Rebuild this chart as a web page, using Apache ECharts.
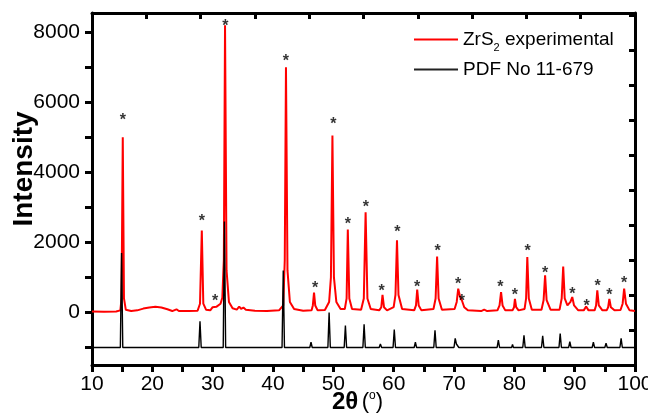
<!DOCTYPE html>
<html>
<head>
<meta charset="utf-8">
<script src="https://cdn.jsdelivr.net/npm/echarts@6/dist/echarts.min.js"></script>
<style>
  html, body { margin: 0; padding: 0; background: #fff; }
  #chart { width: 648px; height: 417px; }
</style>
</head>
<body>
<div id="chart"></div>
<script>
// measured ZrS2 pattern, [2theta, intensity]
const zrs2Experimental = [
  [10, 30], [12, 20], [14, 30], [14.7, 60], [14.9, 400], [15.1, 5000], [15.3, 400], [15.6, 80],
  [16.5, 40], [17.5, 60], [18.5, 110], [19.5, 140], [20.5, 160], [21.5, 140], [22.5, 90],
  [23.3, 40], [24, 90], [24.4, 40], [26, 40], [27.5, 50], [27.9, 250], [28.2, 2340], [28.45, 250],
  [28.9, 80], [29.6, 60], [30.0, 150], [30.3, 200], [30.6, 160], [30.9, 110], [31.3, 250],
  [31.6, 420], [31.85, 1500], [32.05, 8200], [32.3, 1200], [32.7, 300], [33.3, 120], [34.0, 80],
  [34.4, 170], [34.7, 100], [35.1, 140], [35.5, 80], [37, 50], [39, 40], [41, 60], [41.7, 200],
  [41.95, 1500], [42.15, 7000], [42.4, 1200], [42.8, 300], [43.5, 100], [45, 50], [46.4, 60],
  [46.6, 200], [46.8, 570], [47.0, 200], [47.4, 60], [48.6, 70], [49.3, 300], [49.6, 1000],
  [49.85, 5050], [50.1, 1000], [50.5, 300], [51.2, 100], [51.9, 100], [52.2, 400], [52.4, 2370],
  [52.65, 400], [53.1, 100], [54.6, 80], [55.05, 400], [55.35, 2860], [55.65, 400], [56.2, 100],
  [57.6, 60], [57.95, 150], [58.15, 500], [58.4, 150], [58.9, 60], [60, 150], [60.3, 500],
  [60.55, 2060], [60.8, 500], [61.4, 100], [63.4, 60], [63.7, 200], [63.9, 650], [64.15, 200],
  [64.6, 60], [66.6, 100], [66.95, 400], [67.2, 1600], [67.45, 400], [68, 80], [70.1, 100],
  [70.45, 300], [70.7, 680], [71.0, 450], [71.3, 350], [71.7, 150], [72.3, 60], [74.5, 40],
  [75, 80], [75.5, 40], [77.2, 60], [77.55, 200], [77.8, 580], [78.05, 200], [78.5, 60],
  [79.7, 60], [79.95, 150], [80.1, 390], [80.3, 150], [80.7, 60], [81.7, 100], [81.95, 400],
  [82.15, 1580], [82.4, 400], [82.9, 80], [84.5, 80], [84.85, 350], [85.1, 1060], [85.35, 350],
  [86, 80], [87.5, 80], [87.85, 400], [88.1, 1310], [88.35, 400], [88.8, 200], [89.3, 300],
  [89.6, 440], [89.9, 200], [90.6, 60], [91.5, 60], [91.9, 170], [92.3, 60], [93.3, 60],
  [93.55, 200], [93.75, 630], [94, 200], [94.6, 60], [95.3, 60], [95.55, 150], [95.75, 390],
  [96, 150], [96.6, 60], [97.6, 70], [97.95, 250], [98.2, 680], [98.5, 250], [99.1, 60], [100, 40]
];

// reference card, drawn offset below the measured curve
const pdfReference = [
  [10, -1000], [14.7, -1000], [14.9, 1700], [15.1, -1000],
  [27.7, -1000], [27.9, -250], [28.1, -1000],
  [30.4, -1000], [30.5, -950], [30.6, -1000],
  [31.75, -1000], [31.95, 2600], [32.15, -1000],
  [41.5, -1000], [41.7, 1200], [41.9, -1000],
  [46.1, -1000], [46.3, -850], [46.5, -1000],
  [49.1, -1000], [49.3, 0], [49.5, -1000],
  [51.8, -1000], [52.0, -370], [52.2, -1000],
  [54.9, -1000], [55.1, -340], [55.3, -1000],
  [57.6, -1000], [57.8, -900], [58.0, -1000],
  [59.2, -1000], [59.3, -960], [59.4, -1000],
  [59.9, -1000], [60.1, -490], [60.3, -1000],
  [63.4, -1000], [63.6, -850], [63.8, -1000],
  [66.65, -1000], [66.85, -510], [67.05, -1000],
  [70.0, -1000], [70.2, -740], [70.4, -900], [70.6, -880], [70.8, -1000],
  [77.15, -1000], [77.35, -790], [77.55, -1000],
  [79.55, -1000], [79.7, -910], [79.85, -1000],
  [81.4, -1000], [81.6, -650], [81.8, -1000],
  [84.5, -1000], [84.7, -670], [84.9, -1000],
  [87.4, -1000], [87.6, -600], [87.8, -1000],
  [89.0, -1000], [89.2, -830], [89.4, -1000],
  [91.3, -1000], [91.4, -960], [91.5, -1000],
  [92.9, -1000], [93.1, -850], [93.3, -1000],
  [95.0, -1000], [95.2, -880], [95.4, -1000],
  [97.5, -1000], [97.7, -740], [97.9, -1000],
  [100, -1000]
];

// asterisk marks above the indexed peaks
const starMarks = [
  [15.1, 5580], [28.2, 2714], [30.4, 430], [32.1, 8290], [42.15, 7270], [47.0, 800],
  [50.0, 5466], [52.4, 2620], [55.4, 3120], [58.0, 705], [60.6, 2390], [63.9, 820],
  [67.3, 1840], [70.7, 914], [71.3, 437], [77.7, 837], [80.1, 610], [82.2, 1840],
  [85.1, 1220], [89.6, 630], [92.0, 280], [93.8, 866], [95.75, 600], [98.2, 943]
];

const xTicks = [10, 15, 20, 25, 30, 35, 40, 45, 50, 55, 60, 65, 70, 75, 80, 85, 90, 95, 100];
const xLabels = [10, 20, 30, 40, 50, 60, 70, 80, 90, 100];
const xTopTicks = [19, 28, 37, 46, 55, 64, 73, 82, 91];
const yTicks = [-1000, 0, 1000, 2000, 3000, 4000, 5000, 6000, 7000, 8000];
const yLabels = [0, 2000, 4000, 6000, 8000];
const yRightTicks = [-500, 500, 1500, 2500, 3500, 4500, 5500, 6500, 7500, 8500];

const FONT = '"Liberation Sans", Arial, sans-serif';
const axisLine = { show: true, onZero: false, lineStyle: { color: '#000', width: 3 } };

const chart = echarts.init(document.getElementById('chart'), null, { renderer: 'canvas' });
chart.setOption({
  animation: false,
  backgroundColor: '#fff',
  textStyle: { fontFamily: FONT },
  grid: { left: 92, right: 13, top: 13, bottom: 52, containLabel: false, outerBoundsMode: 'none' },
  legend: {
    orient: 'vertical',
    left: 409,
    top: 25,
    itemGap: 7,
    itemWidth: 44,
    itemHeight: 2,
    icon: 'rect',
    data: ['ZrS2 experimental', 'PDF No 11-679'],
    formatter: function (name) {
      return name === 'ZrS2 experimental' ? '{n|ZrS}{sub|2}{n| experimental}' : '{n|' + name + '}';
    },
    textStyle: {
      fontFamily: FONT,
      color: '#000',
      rich: {
        n: { fontSize: 19, fontFamily: FONT, color: '#000' },
        sub: { fontSize: 11, fontFamily: FONT, color: '#000', verticalAlign: 'bottom', padding: [0, 0, -4, 0] }
      }
    }
  },
  xAxis: [
    {
      type: 'value', position: 'bottom', min: 10, max: 100,
      axisLine: axisLine,
      axisTick: { show: true, inside: false, length: 7, lineStyle: { color: '#000', width: 3 }, customValues: xTicks },
      axisLabel: { show: true, margin: 9, fontSize: 21, color: '#000', fontFamily: FONT, customValues: xLabels },
      splitLine: { show: false },
      name: '{b|2θ} {r|(}{s|o}{r|)}',
      nameLocation: 'middle',
      nameGap: 25,
      nameMoveOverlap: false,
      nameTextStyle: {
        padding: [0, 12, 0, 0],
        rich: {
          b: { fontSize: 24, fontWeight: 'bold', fontFamily: FONT, color: '#000' },
          r: { fontSize: 22, fontFamily: FONT, color: '#000' },
          s: { fontSize: 12, fontFamily: FONT, color: '#000', verticalAlign: 'top' }
        }
      }
    },
    {
      type: 'value', position: 'top', min: 10, max: 100,
      axisLine: axisLine,
      axisTick: { show: true, inside: true, length: 6, lineStyle: { color: '#000', width: 3 }, customValues: xTopTicks },
      axisLabel: { show: false },
      splitLine: { show: false }
    }
  ],
  yAxis: [
    {
      type: 'value', position: 'left', min: -1500, max: 8550,
      axisLine: axisLine,
      axisTick: { show: true, inside: false, length: 7, lineStyle: { color: '#000', width: 3 }, customValues: yTicks },
      axisLabel: {
        show: true, margin: 12, fontSize: 21, color: '#000', fontFamily: FONT, customValues: yLabels,
        formatter: function (v) { return String(v); }
      },
      splitLine: { show: false },
      name: 'Intensity',
      nameLocation: 'middle',
      nameGap: 54,
      nameMoveOverlap: false,
      nameTextStyle: { fontSize: 28, fontWeight: 'bold', color: '#000', fontFamily: FONT, padding: [0, 0, 0, 40] }
    },
    {
      type: 'value', position: 'right', min: -1500, max: 8550,
      axisLine: axisLine,
      axisTick: { show: true, inside: true, length: 6, lineStyle: { color: '#000', width: 3 }, customValues: yRightTicks },
      axisLabel: { show: false },
      splitLine: { show: false }
    }
  ],
  series: [
    {
      name: 'ZrS2 experimental', type: 'line', data: zrs2Experimental,
      showSymbol: false, symbol: 'none',
      lineStyle: { color: '#ff0000', width: 2 }, itemStyle: { color: '#ff0000' },
      z: 2
    },
    {
      name: 'PDF No 11-679', type: 'line', data: pdfReference,
      showSymbol: false, symbol: 'none',
      lineStyle: { color: '#000', width: 1.4 }, itemStyle: { color: '#222' },
      z: 3
    },
    {
      name: 'marks', type: 'scatter', data: starMarks,
      symbolSize: 1, itemStyle: { color: 'rgba(0,0,0,0)' },
      label: {
        show: true, position: 'inside', formatter: '*', fontSize: 16, fontWeight: 'bold',
        color: '#000', fontFamily: FONT, offset: [0, 4]
      },
      z: 4
    }
  ]
});
</script>
</body>
</html>
